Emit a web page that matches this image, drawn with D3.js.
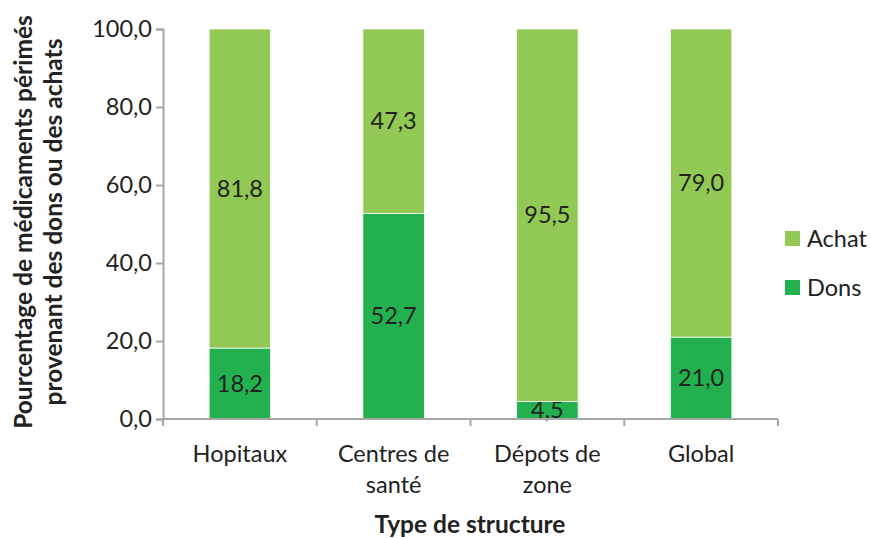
<!DOCTYPE html>
<html>
<head>
<meta charset="utf-8">
<script src="https://cdn.jsdelivr.net/npm/d3@7"></script>
<style>
  body { margin: 0; background: #fff; }
  text { font-family: Lato, "Open Sans", sans-serif; fill: #222; }
</style>
</head>
<body>
<script>
// données
const categories = ["Hopitaux", "Centres de|santé", "Dépots de|zone", "Global"];
const dons = [18.2, 52.7, 4.5, 21.0];
const achat = [81.8, 47.3, 95.5, 79.0];
const yTicks = [0, 20, 40, 60, 80, 100];
const seriesNames = ["Achat", "Dons"];
const colors = { Achat: "#92c955", Dons: "#23b14f" };

const W = 871, H = 538;
const mLeft = 163, mRight = 778, mTop = 29, mBottom = 419;
const fs = "23.5px";

const svg = d3.select("body").append("svg").attr("width", W).attr("height", H);

const x = d3.scaleBand().domain(categories).range([mLeft, mRight]).paddingInner(0.6).paddingOuter(0.3);
const y = d3.scaleLinear().domain([0, 100]).range([mBottom, mTop]);

const fmt = v => v.toFixed(1).replace(".", ",");

// empilement
const rows = categories.map((c, i) => ({ cat: c, Dons: dons[i], Achat: achat[i] }));
const stack = d3.stack().keys(["Dons", "Achat"])(rows);

const groups = svg.selectAll("g.serie").data(stack).enter().append("g").attr("class", "serie");
groups.selectAll("rect").data(d => d.map(p => ({ p, key: d.key })))
  .enter().append("rect")
  .attr("x", d => x(d.p.data.cat))
  .attr("width", x.bandwidth())
  .attr("y", d => y(d.p[1]))
  .attr("height", d => y(d.p[0]) - y(d.p[1]))
  .attr("fill", d => colors[d.key])
  .attr("stroke", "#fff").attr("stroke-width", 0.8);

groups.selectAll("text.val").data(d => d.map(p => ({ p, key: d.key })))
  .enter().append("text")
  .attr("class", "val")
  .attr("x", d => x(d.p.data.cat) + x.bandwidth() / 2)
  .attr("y", d => (y(d.p[0]) + y(d.p[1])) / 2)
  .attr("dy", "0.35em")
  .attr("text-anchor", "middle")
  .style("font-size", fs)
  .text(d => fmt(d.p[1] - d.p[0]));

// axe Y
const yAxis = svg.append("g").attr("transform", `translate(${mLeft},0)`)
  .call(d3.axisLeft(y).tickValues(yTicks).tickFormat(fmt).tickSizeOuter(0).tickSize(7).tickPadding(4));
yAxis.select(".domain").attr("stroke", "#a6a6a6").attr("stroke-width", 2);
yAxis.selectAll(".tick line").attr("stroke", "#a6a6a6").attr("stroke-width", 2);
yAxis.selectAll(".tick text").style("font-size", fs).attr("fill", "#222");

// axe X
const xb = svg.append("g").attr("transform", `translate(0,${mBottom})`);
xb.append("line").attr("x1", mLeft).attr("x2", mRight).attr("stroke", "#a6a6a6").attr("stroke-width", 2);
const bounds = d3.range(categories.length + 1).map(i => mLeft + i * (mRight - mLeft) / categories.length);
xb.selectAll("line.tk").data(bounds).enter().append("line")
  .attr("class", "tk").attr("x1", d => d).attr("x2", d => d).attr("y1", 0).attr("y2", 7)
  .attr("stroke", "#a6a6a6").attr("stroke-width", 2);

const catLab = svg.selectAll("text.cat").data(categories).enter().append("text")
  .attr("class", "cat")
  .attr("x", d => x(d) + x.bandwidth() / 2)
  .attr("y", 462)
  .attr("text-anchor", "middle")
  .style("font-size", fs);
catLab.selectAll("tspan").data(d => d.split("|")).enter().append("tspan")
  .attr("x", function () { return d3.select(this.parentNode).attr("x"); })
  .attr("dy", (d, i) => i === 0 ? 0 : 31)
  .text(d => d);

// titres
svg.append("text").attr("x", 470).attr("y", 533).attr("text-anchor", "middle")
  .style("font-size", "24.5px").style("font-weight", "bold").text("Type de structure");

const yt = svg.append("text").attr("transform", "translate(0,222) rotate(-90)")
  .attr("text-anchor", "middle").style("font-size", "24.5px").style("font-weight", "bold");
yt.append("tspan").attr("x", 0).attr("y", 32).text("Pourcentage de médicaments périmés");
yt.append("tspan").attr("x", 0).attr("y", 62).text("provenant des dons ou des achats");

// légende
const leg = svg.selectAll("g.leg").data(seriesNames).enter().append("g")
  .attr("class", "leg").attr("transform", (d, i) => `translate(785,${231 + i * 49})`);
leg.append("rect").attr("width", 15).attr("height", 15).attr("fill", d => colors[d]);
leg.append("text").attr("x", 22).attr("y", 8).attr("dy", "0.35em").style("font-size", fs).text(d => d);
</script>
</body>
</html>
